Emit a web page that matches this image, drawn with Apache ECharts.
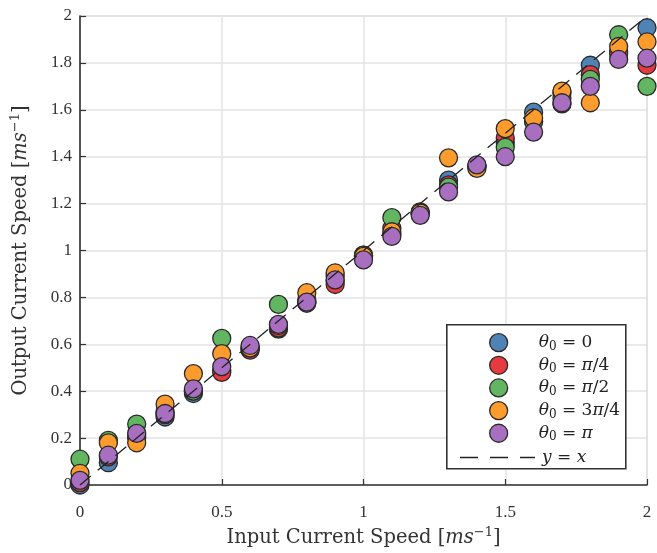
<!DOCTYPE html>
<html>
<head>
<meta charset="utf-8">
<script src="https://cdn.jsdelivr.net/npm/echarts@6/dist/echarts.min.js"></script>
<style>html,body{margin:0;padding:0;background:#fff;}#c{width:657px;height:553px;}</style>
</head>
<body>
<div id="c"></div>
<script>
const xValues = [0,0.1,0.2,0.3,0.4,0.5,0.6,0.7,0.8,0.9,1.0,1.1,1.2,1.3,1.4,1.5,1.6,1.7,1.8,1.9,2.0];
const theta0   = [0.00,0.095,0.21,0.29,0.39,0.49,0.58,0.665,0.78,0.87,0.98,1.07,1.16,1.30,1.36,1.46,1.59,1.67,1.79,1.85,1.95];
const thetaPi4 = [0.01,0.12,0.20,0.30,0.40,0.48,0.575,0.67,0.79,0.855,0.975,1.095,1.16,1.28,1.36,1.48,1.55,1.625,1.75,1.84,1.79];
const thetaPi2 = [0.11,0.19,0.26,0.31,0.40,0.625,0.585,0.77,0.775,0.89,0.98,1.14,1.165,1.27,1.36,1.44,1.55,1.65,1.73,1.92,1.70];
const theta3Pi4= [0.05,0.18,0.18,0.345,0.475,0.56,0.585,0.68,0.82,0.905,0.975,1.08,1.16,1.395,1.35,1.52,1.565,1.68,1.63,1.87,1.89];
const thetaPi  = [0.02,0.127,0.22,0.305,0.41,0.505,0.595,0.685,0.78,0.875,0.96,1.06,1.15,1.25,1.365,1.40,1.505,1.63,1.70,1.815,1.82];
const seriesNames = ['θ0 = 0','θ0 = π/4','θ0 = π/2','θ0 = 3π/4','θ0 = π'];
const seriesRhs = ['0','π/4','π/2','3π/4','π'];
const lineName = 'y = x';
const lineEnds = [0, 2];
const xTicks = {min:0, max:2, interval:0.5};
const yTicks = {min:0, max:2, interval:0.2};
const colors = ['#4f83b5','#e53a3f','#62b662','#fd9b2c','#a86fc0'];
const seriesData = [theta0, thetaPi4, thetaPi2, theta3Pi4, thetaPi];

const FONT = 'Liberation Serif';
const TFONT = 'DejaVu Serif';
function rhsRich(s){
  return s.replace(/π/g,'{it|π}').replace(/(^|\})([^{}]+)(?=\{|$)/g, function(m,p,t){return p + '{n|'+t+'}';});
}
const legendRich = {
  n:{fontFamily:TFONT,fontSize:17,color:'#222',lineHeight:20},
  it:{fontFamily:TFONT,fontSize:17,fontStyle:'italic',color:'#222',lineHeight:20},
  sub:{fontFamily:TFONT,fontSize:12,color:'#222',lineHeight:10,verticalAlign:'bottom'}
};
const nameRich = {
  it:{fontFamily:TFONT,fontSize:19.5,fontStyle:'italic',color:'#333',lineHeight:24},
  sup:{fontFamily:TFONT,fontSize:13,color:'#333',lineHeight:11,verticalAlign:'top'},
  n:{fontFamily:TFONT,fontSize:19.5,color:'#333',lineHeight:24}
};

const series = seriesData.map((d,i)=>({
  name: seriesNames[i],
  type:'scatter',
  data: xValues.map((x,j)=>[x,d[j]]),
  symbol:'circle',
  symbolSize:18,
  clip:false,
  itemStyle:{color:colors[i],borderColor:'#2a2a2a',borderWidth:1.3,opacity:1},
  z:2+i
}));
series.push({
  name: lineName,
  type:'line',
  data: lineEnds.map(v=>[v,v]),
  symbol:'none',
  lineStyle:{color:'#222',width:1.3,type:[14,9]},
  itemStyle:{color:'#222'},
  z:20,
  silent:true
});

const option = {
  animation:false,
  backgroundColor:'#fff',
  grid:{left:80,right:10,top:16,bottom:64,show:true,borderColor:'#dcdcdc',borderWidth:1.5},
  xAxis:{
    type:'value', min:xTicks.min, max:xTicks.max, interval:xTicks.interval,
    axisLine:{show:true,onZero:false,lineStyle:{color:'#333',width:1.6}},
    axisTick:{show:true,inside:true,length:6,lineStyle:{color:'#333',width:1.2}},
    splitLine:{show:true,lineStyle:{color:'#e3e3e3',width:1.5}},
    axisLabel:{fontFamily:FONT,fontSize:17,color:'#333',margin:19,formatter:v=>String(v)},
    name:'{n|Input Current Speed [}{it|ms}{sup|−1}{n|]}',
    nameLocation:'middle', nameGap:41,
    nameTextStyle:{fontFamily:TFONT,fontSize:19.5,color:'#333',rich:nameRich}
  },
  yAxis:{
    type:'value', min:yTicks.min, max:yTicks.max, interval:yTicks.interval,
    axisLine:{show:true,onZero:false,lineStyle:{color:'#333',width:1.6}},
    axisTick:{show:true,inside:true,length:6,lineStyle:{color:'#333',width:1.2}},
    splitLine:{show:true,lineStyle:{color:'#e3e3e3',width:1.5}},
    axisLabel:{fontFamily:FONT,fontSize:17,color:'#333',margin:8,formatter:v=>String(+v.toFixed(1))},
    name:'{n|Output Current Speed [}{it|ms}{sup|−1}{n|]}',
    nameLocation:'middle', nameGap:47, nameRotate:90,
    nameTextStyle:{fontFamily:TFONT,fontSize:19.5,color:'#333',rich:nameRich}
  },
  legend:[{
    data:seriesNames,
    orient:'vertical',
    left:484, top:328,
    itemWidth:18, itemHeight:18, itemGap:3,
    icon:'circle',
    itemStyle:{borderColor:'#2a2a2a',borderWidth:1.3},
    formatter:function(name){const i=seriesNames.indexOf(name);return '{it|θ}{sub|0}{n| = }'+rhsRich(seriesRhs[i]);},
    textStyle:{fontFamily:TFONT,fontSize:17,color:'#222',padding:[0,0,0,26],rich:legendRich},
    selectedMode:false
  },{
    data:[lineName],
    orient:'vertical',
    left:455, top:444,
    itemWidth:75, itemHeight:1.6,
    icon:'path://M0,0H18V1.6H0Z M30,0H48V1.6H30Z M60,0H75V1.6H60Z',
    itemStyle:{color:'#222',borderWidth:0},
    formatter:function(){return '{it|y}{n| = }{it|x}';},
    textStyle:{fontFamily:TFONT,fontSize:17,color:'#222',padding:[0,0,0,2],rich:legendRich},
    selectedMode:false
  }],
  graphic:[{
    type:'rect', left:446, top:324, z:1,
    shape:{width:179,height:144},
    style:{fill:'#fff',stroke:'#333',lineWidth:1.6}
  }],
  series:series
};
const chart = echarts.init(document.getElementById('c'));
chart.setOption(option);
</script>
</body>
</html>
